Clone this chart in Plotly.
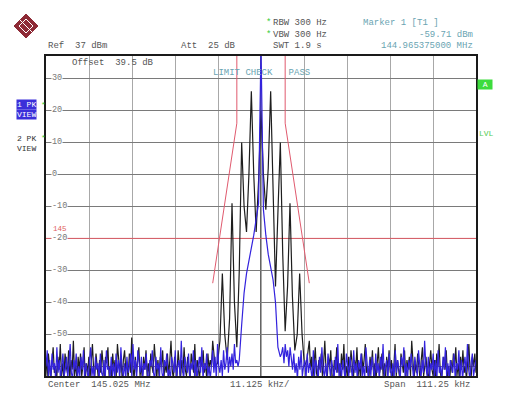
import numpy as np
import plotly.graph_objects as go

# ---------------- data ----------------
center_mhz = 145.025
span_khz = 111.25
ref_level = 37
y_bottom = -63
grid_levels = [30, 20, 10, 0, -10, -20, -30, -40, -50, -60]
grid_labels = ["30", "20", "10", "0", "-10", "-20", "-30", "-40", "-50"]

# trace 2 (black, PK VIEW): noise floor left, FM lines (every 0.625 kHz from -12.5 kHz), noise right
black_noise_left = [-58, -63, -56, -61, -64, -59, -54, -62, -60, -64,
                    -57, -61, -53, -63, -59, -64, -56, -60, -62, -55,
                    -64, -58, -61, -52, -63, -59, -64, -57, -61, -56,
                    -63, -60, -54, -64, -59, -62, -57, -64, -58, -53,
                    -61, -63, -56, -60, -64, -58, -62, -55, -61, -64,
                    -57, -59, -54, -63, -60, -64, -56, -61, -58, -63,
                    -53, -59, -62, -57, -64, -58, -55, -61, -59, -64,
                    -56, -62, -51, -60, -64, -57, -62, -58, -54, -63,
                    -60, -64, -57, -61, -55, -63, -59, -64, -56, -60,
                    -62, -53, -61, -64, -58, -63, -57, -60, -55, -64,
                    -59, -62, -56, -63, -58, -52, -61, -64, -57, -60,
                    -63, -55, -59, -64, -58, -62, -54, -61, -63, -57,
                    -60, -64, -56, -59, -62, -53, -63, -58, -61, -64,
                    -57, -60, -55, -62, -59, -64, -56, -61, -58, -60]
black_signal = [-52, -60, -59, -52, -31, -50, -58, -45, -9, -40,
                -54, -30, 10, -10, -18, 0, 26, 0, -18, -2,
                20, 0, -11, 2, 26, -5, -35, -12, 10, -25,
                -49, -35, -9, -38, -55, -50, -31, -50, -60, -58,
                -52]
black_noise_right = [-61, -57, -64, -59, -54, -62, -64, -58, -61, -56,
                     -63, -59, -52, -61, -64, -57, -60, -55, -63, -64,
                     -58, -61, -54, -62, -59, -64, -56, -61, -53, -63,
                     -60, -64, -57, -62, -55, -59, -64, -58, -61, -54,
                     -63, -59, -64, -56, -61, -58, -53, -62, -60, -64,
                     -57, -61, -55, -63, -59, -64, -58, -54, -62, -60,
                     -56, -63, -59, -64, -57, -61, -55, -62, -58, -64,
                     -60, -53, -63, -58, -61, -64, -56, -59, -62, -55,
                     -64, -58, -61, -57, -63, -52, -60, -64, -59, -62,
                     -56, -61, -64, -58, -54, -63, -60, -57, -62, -64,
                     -59, -55, -61, -63, -58, -64, -56, -60, -53, -62,
                     -64, -59, -57, -61, -55, -63, -60, -64, -58, -62,
                     -56, -60, -54, -63, -59, -64, -57, -61, -55, -62,
                     -60, -64, -58, -53, -61, -63, -57, -60, -56, -62]

# trace 1 (blue, PK VIEW): noise left, carrier + skirt (every 0.625 kHz from -5.625 kHz), noise right
blue_noise_left = [-60, -55, -63, -58, -64, -56, -61, -59, -64, -54,
                   -62, -58, -64, -60, -56, -63, -61, -57, -64, -59,
                   -53, -62, -64, -58, -61, -56, -64, -60, -63, -57,
                   -61, -55, -64, -59, -62, -64, -58, -54, -63, -60,
                   -64, -57, -61, -59, -64, -56, -62, -63, -58, -64,
                   -55, -61, -60, -64, -57, -63, -59, -64, -56, -62,
                   -58, -64, -54, -61, -63, -59, -64, -57, -62, -60,
                   -56, -63, -53, -61, -58, -64, -55, -60, -62, -57,
                   -64, -59, -61, -56, -63, -64, -58, -60, -55, -62,
                   -64, -57, -61, -59, -63, -54, -62, -64, -58, -60,
                   -56, -63, -61, -64, -57, -59, -62, -55, -64, -60,
                   -58, -63, -52, -61, -64, -57, -60, -62, -56, -64,
                   -59, -61, -55, -63, -58, -64, -60, -57, -62, -54,
                   -64, -59, -61, -56, -63, -60, -64, -58, -55, -62,
                   -57, -64, -53, -60, -62, -58, -63, -55, -61, -59,
                   -54, -62, -57, -60, -56, -61, -53, -59, -58, -60]
blue_signal = [-58, -47, -37, -31, -27, -24, -19, -14, -9, 40,
               -11, -19, -25, -29, -33, -40, -54, -57]
blue_noise_right = [-56, -54, -59, -53, -57, -55, -60, -54, -58, -61,
                    -56, -62, -59, -64, -57, -61, -55, -63, -60, -58,
                    -64, -56, -62, -59, -61, -64, -55, -63, -58, -60,
                    -64, -57, -62, -54, -61, -63, -59, -64, -56, -60,
                    -63, -58, -61, -64, -57, -62, -53, -63, -59, -64,
                    -58, -61, -64, -56, -60, -63, -57, -61, -64, -55,
                    -62, -59, -64, -58, -61, -56, -63, -60, -64, -54,
                    -61, -64, -58, -63, -57, -60, -64, -56, -62, -59,
                    -64, -57, -61, -53, -63, -60, -58, -64, -56, -61,
                    -63, -59, -64, -55, -62, -58, -61, -64, -57, -60,
                    -54, -63, -59, -64, -58, -61, -56, -62, -64, -57,
                    -60, -63, -55, -61, -64, -58, -62, -52, -60, -63,
                    -57, -64, -59, -61, -56, -63, -58, -64, -55, -62,
                    -60, -64, -57, -61, -54, -63, -59, -64, -58, -60,
                    -62, -56, -64, -59, -61, -55, -63, -58, -64, -60,
                    -57, -62, -53, -61, -64, -59, -56, -63, -60, -58]

# frequency extents of each segment (kHz offset from center)
black_left_span = (-55.625, -12.8125)
black_signal_start, signal_step = -12.5, 0.625
black_right_span = (12.8125, 55.625)
blue_left_span = (-55.625, -5.9375)
blue_signal_start = -5.625
blue_right_span = (5.3125, 55.625)

# limit line mask (kHz offset, dBm) and display line
limit_x = [-12.5, -6.25, -6.25, 6.25, 6.25, 12.5]
limit_y = [-34, 16, 45, 45, 16, -34]
display_line_level = -20
display_line_label = "145"

# ---------------- build ----------------
def seg(vals, span):
    return np.linspace(span[0], span[1], len(vals))


def sig(vals, start):
    return start + signal_step * np.arange(len(vals))


freq_black = np.concatenate([seg(black_noise_left, black_left_span),
                             sig(black_signal, black_signal_start),
                             seg(black_noise_right, black_right_span)])
black_vals = black_noise_left + black_signal + black_noise_right
freq_blue = np.concatenate([seg(blue_noise_left, blue_left_span),
                            sig(blue_signal, blue_signal_start),
                            seg(blue_noise_right, blue_right_span)])
blue_vals = blue_noise_left + blue_signal + blue_noise_right
x_lo, x_hi = -span_khz / 2, span_khz / 2

W, H = 510, 408
L, R, T, B = 46, 476, 56, 376


def pxx(x):
    return (x - L) / (R - L)


def pyy(y):
    return (B - y) / (B - T)


MONO = "Liberation Mono, DejaVu Sans Mono, monospace"
fig = go.Figure()

fig.add_trace(go.Scatter(x=[x_lo, x_hi], y=[display_line_level] * 2, mode="lines",
                         line=dict(color="#e0606a", width=1), hoverinfo="skip"))
fig.add_trace(go.Scatter(x=limit_x, y=limit_y, mode="lines",
                         line=dict(color="#e05a6e", width=1), hoverinfo="skip"))
fig.add_trace(go.Scatter(x=freq_black, y=black_vals, mode="lines",
                         line=dict(color="#1e1e1e", width=1.2), hoverinfo="skip"))
fig.add_trace(go.Scatter(x=freq_blue, y=blue_vals, mode="lines",
                         line=dict(color="#3322dd", width=1.2), hoverinfo="skip"))

fig.add_shape(type="line", xref="x", yref="paper", x0=0, x1=0, y0=0, y1=1,
              line=dict(color="#111", width=1.3), layer="below")

ann = []


def txt(s, x, y, color="#555", size=9, xanchor="left", bg=None, font=MONO):
    d = dict(text=s, x=pxx(x), y=pyy(y), xref="paper", yref="paper",
             xanchor=xanchor, yanchor="middle", showarrow=False,
             font=dict(family=font, size=size, color=color), borderpad=0)
    if bg:
        d["bgcolor"] = bg
    ann.append(d)


# header
txt("Ref  37 dBm", 47, 46)
txt("Att  25 dB", 180, 46)
txt("*", 265, 23, color="#33cc33")
txt("*", 265, 35, color="#33cc33")
txt("RBW 300 Hz", 272, 23)
txt("VBW 300 Hz", 272, 35)
txt("SWT 1.9 s", 272, 46)
txt("Marker 1 [T1 ]", 362, 23, color="#6aa4b2")
txt("-59.71 dBm", 474, 35, color="#6aa4b2", xanchor="right")
txt("144.965375000 MHz", 474, 46, color="#6aa4b2", xanchor="right")
txt("Offset  39.5 dB", 71, 63)
txt("LIMIT CHECK   PASS", 212, 73, color="#6aa4b2")

# footer
txt("Center  145.025 MHz", 47, 385)
txt("11.125 kHz/", 259, 385, xanchor="center")
txt("Span  111.25 kHz", 471, 385, xanchor="right")

# y labels inside plot
for lev, lab in zip(grid_levels, grid_labels):
    ypix = B - (lev - y_bottom) / (ref_level - y_bottom) * (B - T)
    txt(lab, 51, ypix, color="#777", size=8.5, bg="white")
txt(display_line_label, 52, 229, color="#e06060", size=7.5)

# left trace labels
txt("1 PK", 16, 105, color="white", size=8, bg="#3b2fd9")
txt("VIEW", 16, 115, color="white", size=8, bg="#3b2fd9")
txt("*", 40, 104, color="#33cc33", size=8)
txt("2 PK", 16, 138, size=8, color="#333")
txt("VIEW", 16, 148, size=8, color="#333")
txt("*", 40, 137, color="#33cc33", size=8)

# right side
txt(" A ", 485, 84, color="white", size=8, bg="#3ddc3d", xanchor="center")
txt("LVL", 478, 133, color="#55cc55", size=8)

# R&S logo
shapes = []
cx, cy, r = 26, 26, 12
path = "M {} {} L {} {} L {} {} L {} {} Z".format(
    pxx(cx), pyy(cy - r), pxx(cx + r), pyy(cy), pxx(cx), pyy(cy + r), pxx(cx - r), pyy(cy))
shapes.append(dict(type="path", xref="paper", yref="paper", path=path,
                   fillcolor="#8e2a36", line=dict(color="#8e2a36", width=1)))
r2 = 7
path2 = "M {} {} L {} {} L {} {} L {} {} Z".format(
    pxx(cx), pyy(cy - r2), pxx(cx + r2), pyy(cy), pxx(cx), pyy(cy + r2), pxx(cx - r2), pyy(cy))
shapes.append(dict(type="path", xref="paper", yref="paper", path=path2,
                   fillcolor="rgba(0,0,0,0)", line=dict(color="white", width=1)))
shapes.append(dict(type="line", xref="paper", yref="paper",
                   x0=pxx(cx - 6), y0=pyy(cy - 6), x1=pxx(cx + 6), y1=pyy(cy + 6),
                   line=dict(color="white", width=1)))
for s in shapes:
    fig.add_shape(**s)

fig.update_layout(
    width=W, height=H,
    margin=dict(l=L, r=W - R, t=T, b=H - B, pad=0),
    paper_bgcolor="white", plot_bgcolor="white",
    showlegend=False,
    annotations=ann,
    xaxis=dict(range=[x_lo, x_hi], tick0=x_lo, dtick=span_khz / 10,
               showgrid=True, gridcolor="#a8a8a8", gridwidth=1,
               zeroline=False, showticklabels=False, ticks="",
               showline=True, mirror=True, linecolor="#1a1a1a", linewidth=1.6,
               fixedrange=True),
    yaxis=dict(range=[y_bottom, ref_level], tick0=0, dtick=10,
               showgrid=True, gridcolor="#7a7a7a", gridwidth=1,
               zeroline=False, showticklabels=False, ticks="",
               showline=True, mirror=True, linecolor="#1a1a1a", linewidth=1.6,
               fixedrange=True),
)

fig.write_html("out.html", config={"displayModeBar": False},
               post_script="document.body.style.margin='0px';document.body.style.overflow='hidden';")
